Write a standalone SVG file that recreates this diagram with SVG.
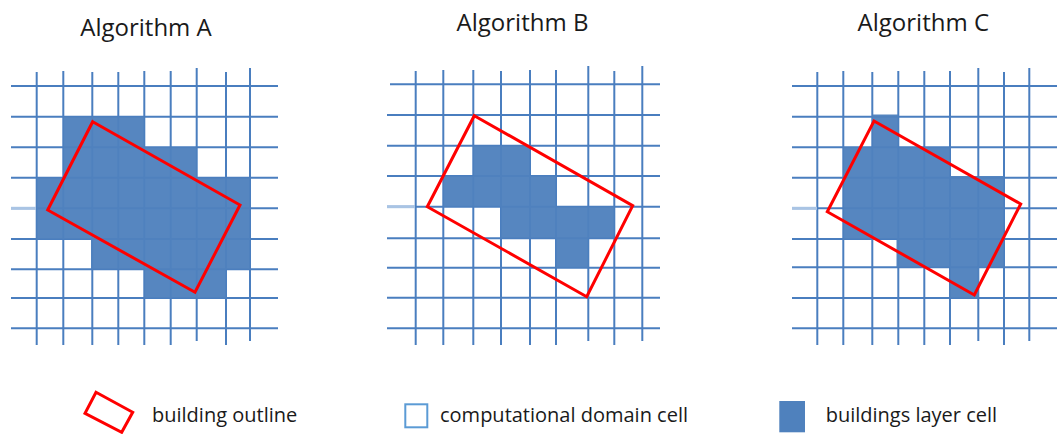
<svg xmlns="http://www.w3.org/2000/svg" width="1057" height="434" viewBox="0 0 1057 434">
<style>
.bg{fill:#ffffff}
.grid line{stroke:#4a7ebf;stroke-width:2}
.cells{fill:#4f81bd;fill-opacity:0.96}
.outline{fill:none;stroke:#ff0000;stroke-width:3;stroke-linejoin:miter}
.title{font-family:"Open Sans","Liberation Sans",sans-serif;font-size:24px;fill:#1a1a1a;text-anchor:middle}
.leg{font-family:"Open Sans","Liberation Sans",sans-serif;font-size:20px;fill:#1a1a1a}
.faint{stroke:#a9c4e4;stroke-width:3}
</style>
<rect class="bg" x="0" y="0" width="1057" height="434"/>

<g id="panel-a">
  <text class="title" x="146" y="36">Algorithm A</text>
  <g class="grid">
    <line x1="11" y1="86" x2="278" y2="86"/>
    <line x1="11" y1="116.7" x2="278" y2="116.7"/>
    <line x1="11" y1="147.3" x2="278" y2="147.3"/>
    <line x1="11" y1="177.7" x2="278" y2="177.7"/>
    <line x1="11" y1="208.3" x2="278" y2="208.3"/>
    <line x1="11" y1="239" x2="278" y2="239"/>
    <line x1="11" y1="269.3" x2="278" y2="269.3"/>
    <line x1="11" y1="298" x2="278" y2="298"/>
    <line x1="11" y1="328.3" x2="278" y2="328.3"/>
    <line x1="36.7" y1="72" x2="36.7" y2="345"/>
    <line x1="63.3" y1="71" x2="63.3" y2="345"/>
    <line x1="92.3" y1="72" x2="92.3" y2="345"/>
    <line x1="118.3" y1="72" x2="118.3" y2="345"/>
    <line x1="144.3" y1="71" x2="144.3" y2="345"/>
    <line x1="170.7" y1="71" x2="170.7" y2="345"/>
    <line x1="196.7" y1="68" x2="196.7" y2="341"/>
    <line x1="226" y1="72" x2="226" y2="345"/>
    <line x1="250" y1="68" x2="250" y2="341"/>
  </g>
  <line class="faint" x1="11" y1="208.3" x2="36" y2="208.3"/>
  <path class="cells" d="M63.3,116.7 H144.3 V147.3 H196.7 V177.7 H250 V269.3 H226 V298 H144.3 V269.3 H91 V239 H36.7 V177.7 H63.3 Z"/>
  <polygon class="outline" points="92.7,121.7 240,205 195,292.3 47.7,210"/>
</g>

<g id="panel-b">
  <text class="title" x="522.5" y="31">Algorithm B</text>
  <g class="grid">
    <line x1="390" y1="84.3" x2="660" y2="84.3"/>
    <line x1="387" y1="115" x2="660" y2="115"/>
    <line x1="387" y1="145.7" x2="660" y2="145.7"/>
    <line x1="387" y1="176" x2="660" y2="176"/>
    <line x1="387" y1="206.7" x2="660" y2="206.7"/>
    <line x1="387" y1="238.3" x2="660" y2="238.3"/>
    <line x1="387" y1="267.7" x2="660" y2="267.7"/>
    <line x1="387" y1="297.7" x2="660" y2="297.7"/>
    <line x1="387" y1="328.3" x2="660" y2="328.3"/>
    <line x1="415.7" y1="71" x2="415.7" y2="345"/>
    <line x1="443.3" y1="70" x2="443.3" y2="345"/>
    <line x1="473.3" y1="70" x2="473.3" y2="345"/>
    <line x1="501" y1="71" x2="501" y2="345"/>
    <line x1="530" y1="70" x2="530" y2="345"/>
    <line x1="556" y1="70" x2="556" y2="345"/>
    <line x1="588.3" y1="66" x2="588.3" y2="341"/>
    <line x1="614.3" y1="71" x2="614.3" y2="345"/>
    <line x1="642.3" y1="66" x2="642.3" y2="341"/>
  </g>
  <line class="faint" x1="387" y1="206.7" x2="415" y2="206.7"/>
  <path class="cells" d="M473.3,145.7 H530 V176 H556 V206.7 H614.3 V238.3 H588.3 V267.7 H556 V238.3 H501 V206.7 H443.3 V176 H473.3 Z"/>
  <polygon class="outline" points="474.3,115.7 632.7,205.7 586.7,296.7 427.3,206.7"/>
</g>

<g id="panel-c">
  <text class="title" x="923.3" y="31">Algorithm C</text>
  <g class="grid">
    <line x1="792" y1="86" x2="1057" y2="86"/>
    <line x1="792" y1="116.7" x2="1057" y2="116.7"/>
    <line x1="792" y1="147.3" x2="1057" y2="147.3"/>
    <line x1="792" y1="177.7" x2="1057" y2="177.7"/>
    <line x1="792" y1="208.3" x2="1057" y2="208.3"/>
    <line x1="792" y1="239" x2="1057" y2="239"/>
    <line x1="792" y1="267.3" x2="1057" y2="267.3"/>
    <line x1="792" y1="298" x2="1057" y2="298"/>
    <line x1="792" y1="328.3" x2="1057" y2="328.3"/>
    <line x1="817.3" y1="72" x2="817.3" y2="345"/>
    <line x1="843.3" y1="71" x2="843.3" y2="345"/>
    <line x1="872.3" y1="72" x2="872.3" y2="345"/>
    <line x1="898.3" y1="71" x2="898.3" y2="345"/>
    <line x1="924.3" y1="71" x2="924.3" y2="345"/>
    <line x1="950" y1="71" x2="950" y2="345"/>
    <line x1="978.3" y1="68" x2="978.3" y2="341"/>
    <line x1="1004" y1="72" x2="1004" y2="345"/>
    <line x1="1029.3" y1="68" x2="1029.3" y2="341"/>
  </g>
  <line class="faint" x1="792" y1="208.3" x2="817" y2="208.3"/>
  <path class="cells" d="M872.3,114.5 H898.3 V147.3 H950 V176 H1004 V267.3 H979 V298 H950 V267.3 H896.5 V239 H843.3 V147.3 H872.3 Z"/>
  <polygon class="outline" points="874,121 1020.7,204 974.3,295 827.3,211.7"/>
</g>

<g id="legend">
  <g id="legend-outline">
    <polygon class="outline" points="96,392.3 132.7,412.3 121.7,432.3 85,413.3"/>
    <text class="leg" x="152" y="421.5">building outline</text>
  </g>
  <g id="legend-domain">
    <rect x="405.3" y="404.3" width="22" height="23" fill="#ffffff" stroke="#5b9bd5" stroke-width="2"/>
    <text class="leg" x="440" y="421.5">computational domain cell</text>
  </g>
  <g id="legend-buildings">
    <rect x="779.3" y="401" width="25.7" height="31.3" fill="#4f81bd"/>
    <text class="leg" x="825.7" y="421.5">buildings layer cell</text>
  </g>
</g>
</svg>
